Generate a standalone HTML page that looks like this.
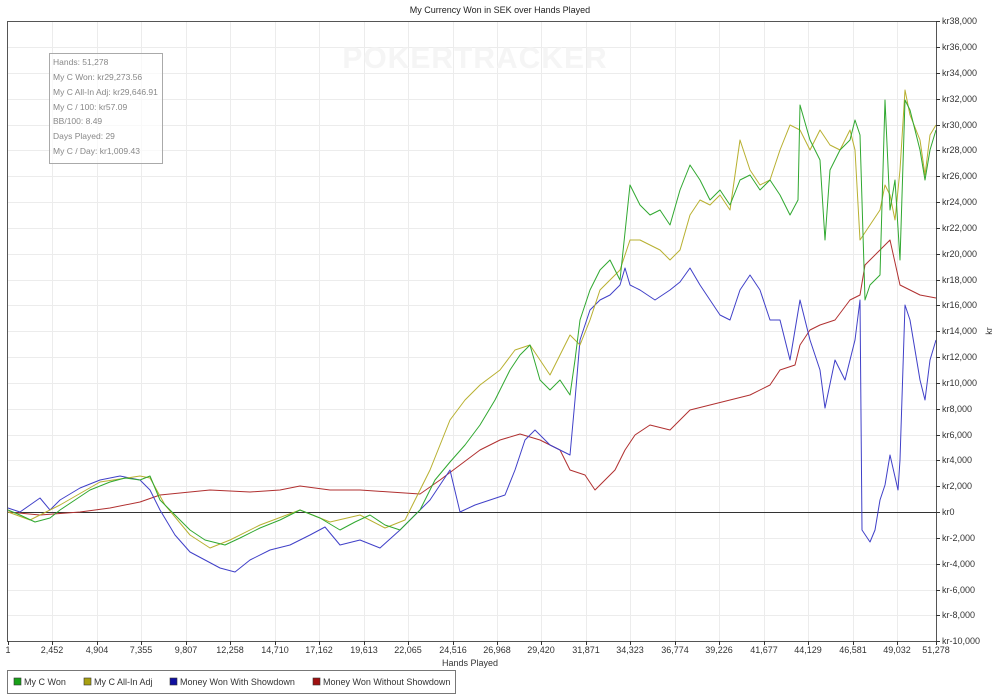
<!DOCTYPE html>
<html><head><meta charset="utf-8"><style>
html,body{margin:0;padding:0;background:#fff;}
svg{display:block;font-family:"Liberation Sans",sans-serif;}
</style></head><body>
<svg width="1000" height="700" viewBox="0 0 1000 700" xmlns="http://www.w3.org/2000/svg">
<rect width="1000" height="700" fill="#fff"/>
<text x="500" y="13" font-size="9" text-anchor="middle" fill="#222">My Currency Won in SEK over Hands Played</text>
<path stroke="#ececec" stroke-width="1" fill="none" d="M52.5,22V641M97.5,22V641M141.5,22V641M186.5,22V641M230.5,22V641M275.5,22V641M319.5,22V641M364.5,22V641M408.5,22V641M453.5,22V641M497.5,22V641M541.5,22V641M586.5,22V641M630.5,22V641M675.5,22V641M719.5,22V641M764.5,22V641M808.5,22V641M853.5,22V641M897.5,22V641
M8,615.5H936M8,590.5H936M8,564.5H936M8,538.5H936M8,486.5H936M8,460.5H936M8,435.5H936M8,409.5H936M8,383.5H936M8,357.5H936M8,331.5H936M8,305.5H936M8,280.5H936M8,254.5H936M8,228.5H936M8,202.5H936M8,176.5H936M8,150.5H936M8,125.5H936M8,99.5H936M8,73.5H936M8,47.5H936"/>
<text x="475" y="68" font-size="30" font-weight="bold" text-anchor="middle" fill="#f5f5f5" letter-spacing="1">POKERTRACKER</text>
<line x1="7" y1="512.5" x2="936" y2="512.5" stroke="#333" stroke-width="1"/>
<g fill="none" stroke-width="1" stroke-linejoin="round">
<polyline stroke="#b03030" points="8,512 40,515 80,512 110,508 140,502 160,495 180,493 210,490 250,492 280,490 300,486 330,490 360,490 390,492 420,494 440,480 460,465 480,450 500,440 520,434 540,440 560,450 570,470 585,475 595,490 605,480 615,470 625,450 635,435 650,425 670,430 680,420 690,410 710,405 730,400 750,395 770,385 780,370 795,365 800,345 810,330 820,325 835,320 850,300 860,295 865,265 880,250 890,240 900,285 910,290 920,295 936,298"/>
<polyline stroke="#4040c8" points="8,508 20,512 30,505 40,498 50,510 60,500 80,488 100,480 120,476 140,480 150,490 160,510 175,535 190,552 205,560 220,568 235,572 250,560 270,550 290,545 310,535 325,527 340,545 360,540 380,548 400,530 410,520 430,500 450,470 460,512 475,505 490,500 505,495 515,470 525,440 535,430 550,445 560,450 570,455 575,400 580,340 590,310 600,300 610,295 620,285 625,268 630,285 640,290 655,300 670,290 680,282 690,268 700,285 710,300 720,315 730,320 740,290 750,275 760,290 770,320 780,320 790,360 800,300 810,340 820,370 825,408 835,360 845,380 855,340 860,300 862,530 870,542 875,530 880,500 885,485 890,455 898,490 900,460 905,305 910,320 920,380 925,400 930,360 936,340"/>
<polyline stroke="#b8b030" points="8,512 30,520 60,505 100,482 140,476 150,478 165,505 190,535 210,548 230,540 260,525 300,510 330,522 360,515 385,528 405,520 430,470 450,420 465,400 480,385 500,370 515,350 530,345 540,360 550,375 560,355 570,335 580,345 590,320 600,290 610,280 620,270 630,240 640,240 650,245 660,250 670,260 680,250 690,215 700,200 710,205 720,195 730,210 740,140 750,170 760,185 770,180 780,150 790,125 800,130 810,150 820,130 830,145 840,150 850,130 855,150 860,240 870,225 880,210 885,185 890,195 895,220 900,170 905,90 910,115 920,140 925,175 930,135 936,125"/>
<polyline stroke="#30a830" points="8,510 20,515 35,522 50,518 60,510 75,500 90,490 110,482 125,478 140,480 150,476 160,500 175,515 190,530 205,540 225,545 240,538 260,528 280,520 300,510 320,518 340,530 355,522 370,515 385,525 400,530 420,510 435,480 450,462 465,445 480,425 495,400 510,370 520,355 530,345 540,380 550,390 560,380 570,395 575,360 580,320 590,290 600,270 610,260 620,280 630,185 640,205 650,215 660,210 670,225 680,190 690,165 700,180 710,200 720,190 730,205 740,180 750,175 760,190 770,180 780,195 790,215 798,200 800,105 810,140 820,160 825,240 830,170 840,150 850,140 855,120 860,135 865,300 870,285 880,275 885,100 890,210 895,180 900,260 905,100 910,110 920,150 925,180 930,150 936,130"/>
</g>
<rect x="7.5" y="21.5" width="929" height="620" fill="none" stroke="#555" stroke-width="1"/>
<path stroke="#333" stroke-width="1" fill="none" d="M8.5,641V645M52.5,641V645M97.5,641V645M141.5,641V645M186.5,641V645M230.5,641V645M275.5,641V645M319.5,641V645M364.5,641V645M408.5,641V645M453.5,641V645M497.5,641V645M541.5,641V645M586.5,641V645M630.5,641V645M675.5,641V645M719.5,641V645M764.5,641V645M808.5,641V645M853.5,641V645M897.5,641V645M936.5,641V645
M936,641.5h4M936,615.5h4M936,590.5h4M936,564.5h4M936,538.5h4M936,512.5h4M936,486.5h4M936,460.5h4M936,435.5h4M936,409.5h4M936,383.5h4M936,357.5h4M936,331.5h4M936,305.5h4M936,280.5h4M936,254.5h4M936,228.5h4M936,202.5h4M936,176.5h4M936,150.5h4M936,125.5h4M936,99.5h4M936,73.5h4M936,47.5h4M936,21.5h4"/>
<g font-size="9" fill="#333" text-anchor="middle">
<text x="8" y="653">1</text><text x="52" y="653">2,452</text><text x="97" y="653">4,904</text><text x="141" y="653">7,355</text><text x="186" y="653">9,807</text><text x="230" y="653">12,258</text><text x="275" y="653">14,710</text><text x="319" y="653">17,162</text><text x="364" y="653">19,613</text><text x="408" y="653">22,065</text><text x="453" y="653">24,516</text><text x="497" y="653">26,968</text><text x="541" y="653">29,420</text><text x="586" y="653">31,871</text><text x="630" y="653">34,323</text><text x="675" y="653">36,774</text><text x="719" y="653">39,226</text><text x="764" y="653">41,677</text><text x="808" y="653">44,129</text><text x="853" y="653">46,581</text><text x="897" y="653">49,032</text><text x="936" y="653">51,278</text>
</g>
<g font-size="9" fill="#333">
<text x="942" y="644">kr-10,000</text><text x="942" y="618">kr-8,000</text><text x="942" y="593">kr-6,000</text><text x="942" y="567">kr-4,000</text><text x="942" y="541">kr-2,000</text><text x="942" y="515">kr0</text><text x="942" y="489">kr2,000</text><text x="942" y="463">kr4,000</text><text x="942" y="438">kr6,000</text><text x="942" y="412">kr8,000</text><text x="942" y="386">kr10,000</text><text x="942" y="360">kr12,000</text><text x="942" y="334">kr14,000</text><text x="942" y="308">kr16,000</text><text x="942" y="283">kr18,000</text><text x="942" y="257">kr20,000</text><text x="942" y="231">kr22,000</text><text x="942" y="205">kr24,000</text><text x="942" y="179">kr26,000</text><text x="942" y="153">kr28,000</text><text x="942" y="128">kr30,000</text><text x="942" y="102">kr32,000</text><text x="942" y="76">kr34,000</text><text x="942" y="50">kr36,000</text><text x="942" y="24">kr38,000</text>
</g>
<rect x="49.5" y="53.5" width="113" height="110" fill="#fff" fill-opacity="0.7" stroke="#aaa"/>
<g font-size="8.5" fill="#888">
<text x="53" y="65">Hands: 51,278</text>
<text x="53" y="80">My C Won: kr29,273.56</text>
<text x="53" y="95">My C All-In Adj: kr29,646.91</text>
<text x="53" y="110">My C / 100: kr57.09</text>
<text x="53" y="124">BB/100: 8.49</text>
<text x="53" y="139">Days Played: 29</text>
<text x="53" y="154">My C / Day: kr1,009.43</text>
</g>
<text x="470" y="666" font-size="9" text-anchor="middle" fill="#333">Hands Played</text>
<text x="992" y="331" font-size="9" fill="#333" transform="rotate(-90 992 331)" text-anchor="middle">kr</text>
<rect x="7.5" y="670.5" width="448" height="23" fill="#fff" stroke="#777"/>
<g font-size="9" fill="#333">
<rect x="14" y="678" width="7" height="7" fill="#18a018" stroke="#333" stroke-width="0.6"/><text x="24" y="685">My C Won</text>
<rect x="84" y="678" width="7" height="7" fill="#a8a010" stroke="#333" stroke-width="0.6"/><text x="94" y="685">My C All-In Adj</text>
<rect x="170" y="678" width="7" height="7" fill="#1010a0" stroke="#333" stroke-width="0.6"/><text x="180" y="685">Money Won With Showdown</text>
<rect x="313" y="678" width="7" height="7" fill="#a01010" stroke="#333" stroke-width="0.6"/><text x="323" y="685">Money Won Without Showdown</text>
</g>
</svg>
</body></html>
